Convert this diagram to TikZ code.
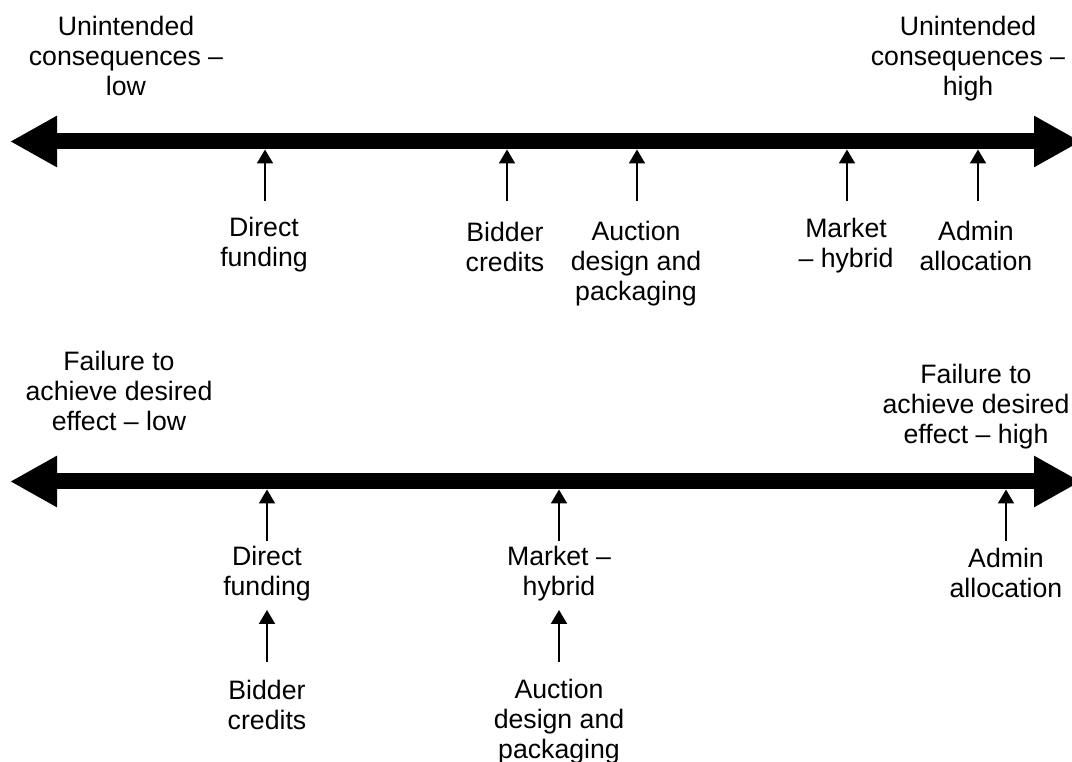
\documentclass[tikz,border=0pt]{standalone}
\usepackage{fontspec}
\setmainfont{Liberation Sans}
\usetikzlibrary{arrows.meta}

\begin{document}
\begin{tikzpicture}[x=0.75pt, y=-0.75pt,
  axis/.style={line width=12pt, {Triangle[length=35.25pt,width=36pt]}-{Triangle[length=35.25pt,width=36pt]}},
  pin/.style={line width=1.5pt, -{Triangle[length=10.5pt,width=12pt]}},
  txt/.style={align=center, anchor=north, inner sep=0pt, font=\fontsize{20}{22.5}\selectfont}]
\useasboundingbox (0,0) rectangle (1072,762);
% scale 1: unintended consequences
\node[txt] (UL) at (126,16) {Unintended\\consequences –\\low};
\node[txt] (UH) at (968,16) {Unintended\\consequences –\\high};
\coordinate (A1L) at (10,141.5);
\coordinate (A1R) at (1081,141.5);
\draw[axis] (A1L) -- (A1R);
\node[txt] (U1) at (264,217) {Direct\\funding};
\node[txt] (U2) at (505,222) {Bidder\\credits};
\node[txt] (U3) at (636,221) {Auction\\design and\\packaging};
\node[txt] (U4) at (846,218) {Market\\– hybrid};
\node[txt] (U5) at (976,221) {Admin\\allocation};
\coordinate (s1) at (265,201); \coordinate (t1) at (265,149.5);
\coordinate (s2) at (507,201); \coordinate (t2) at (507,149.5);
\coordinate (s3) at (637,201); \coordinate (t3) at (637,149.5);
\coordinate (s4) at (847,201); \coordinate (t4) at (847,149.5);
\coordinate (s5) at (978,201); \coordinate (t5) at (978,149.5);
\draw[pin] (s1) -- (t1);
\draw[pin] (s2) -- (t2);
\draw[pin] (s3) -- (t3);
\draw[pin] (s4) -- (t4);
\draw[pin] (s5) -- (t5);
% scale 2: failure to achieve desired effect
\node[txt] (FL) at (119,351) {Failure to\\achieve desired\\effect – low};
\node[txt] (FH) at (976,364) {Failure to\\achieve desired\\effect – high};
\coordinate (A2L) at (10,481.5);
\coordinate (A2R) at (1081,481.5);
\draw[axis] (A2L) -- (A2R);
\node[txt] (F1) at (267,546) {Direct\\funding};
\node[txt] (F2) at (559,546) {Market –\\hybrid};
\node[txt] (F3) at (1006,548) {Admin\\allocation};
\node[txt] (F4) at (267,680) {Bidder\\credits};
\node[txt] (F5) at (559,679) {Auction\\design and\\packaging};
\coordinate (r1) at (267,541); \coordinate (q1) at (267,489.5);
\coordinate (r2) at (559,541); \coordinate (q2) at (559,489.5);
\coordinate (r3) at (1006,541); \coordinate (q3) at (1006,489.5);
\coordinate (r4) at (267,662); \coordinate (q4) at (267,610);
\coordinate (r5) at (559,662); \coordinate (q5) at (559,610);
\draw[pin] (r1) -- (q1);
\draw[pin] (r2) -- (q2);
\draw[pin] (r3) -- (q3);
\draw[pin] (r4) -- (q4);
\draw[pin] (r5) -- (q5);
\end{tikzpicture}
\end{document}
